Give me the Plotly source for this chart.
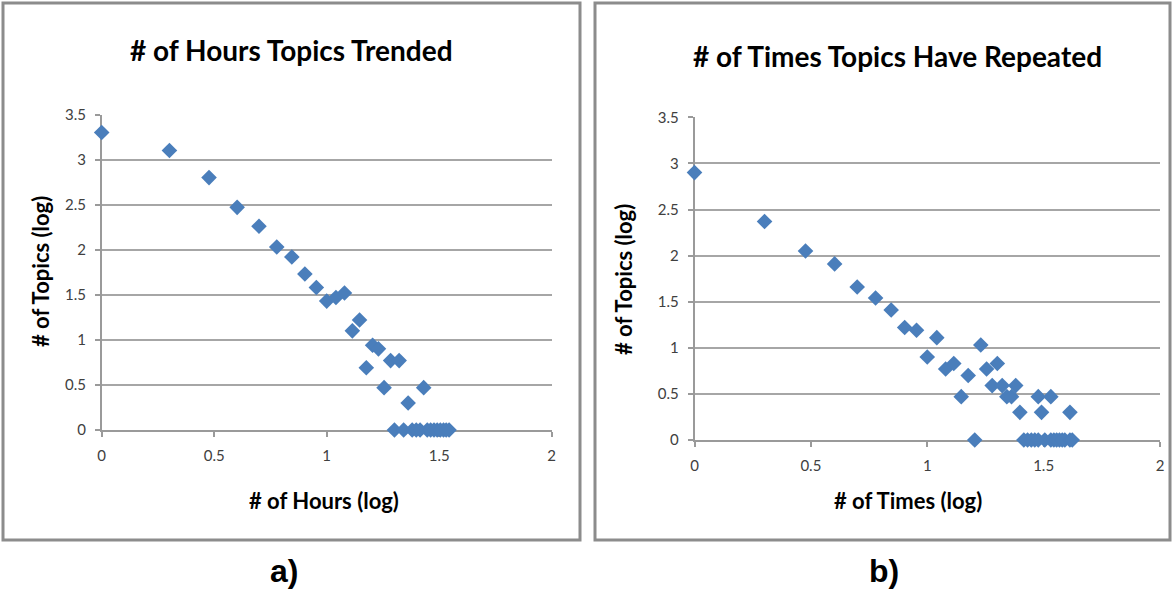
import plotly.graph_objects as go

W, H = 1172, 591

# ---- data (log10 values) ----
hours_x = [0.0, 0.301, 0.477, 0.602, 0.699, 0.778, 0.845, 0.903, 0.954, 1.0,
           1.041, 1.079, 1.114, 1.146, 1.176, 1.204, 1.230, 1.255, 1.284, 1.322,
           1.362, 1.431,
           1.301, 1.342, 1.380, 1.398, 1.415, 1.447, 1.462, 1.477, 1.491, 1.505,
           1.519, 1.531, 1.544]
hours_y = [3.30, 3.10, 2.80, 2.47, 2.26, 2.03, 1.92, 1.73, 1.58, 1.43,
           1.47, 1.52, 1.10, 1.22, 0.69, 0.94, 0.90, 0.47, 0.77, 0.77,
           0.30, 0.47,
           0, 0, 0, 0, 0, 0, 0, 0, 0, 0,
           0, 0, 0]

times_x = [0.0, 0.301, 0.477, 0.602, 0.699, 0.778, 0.845, 0.903, 0.954, 1.0,
           1.041, 1.079, 1.114, 1.146, 1.176, 1.204, 1.230, 1.255, 1.279, 1.301,
           1.322, 1.342, 1.362, 1.380, 1.398, 1.477, 1.491, 1.531, 1.613,
           1.415, 1.431, 1.447, 1.462, 1.477, 1.505, 1.531, 1.544, 1.556, 1.568,
           1.580, 1.591, 1.613, 1.623]
times_y = [2.90, 2.37, 2.05, 1.91, 1.66, 1.54, 1.41, 1.22, 1.19, 0.90,
           1.11, 0.77, 0.83, 0.47, 0.70, 0.0, 1.03, 0.77, 0.59, 0.83,
           0.59, 0.47, 0.47, 0.59, 0.30, 0.47, 0.30, 0.47, 0.30,
           0, 0, 0, 0, 0, 0, 0, 0, 0, 0,
           0, 0, 0, 0]

x_ticks = [0, 0.5, 1, 1.5, 2]
x_tick_labels = ["0", "0.5", "1", "1.5", "2"]
y_ticks = [0, 0.5, 1, 1.5, 2, 2.5, 3, 3.5]
y_tick_labels = ["0", "0.5", "1", "1.5", "2", "2.5", "3", "3.5"]

titles = ["# of Hours Topics Trended", "# of Times Topics Have Repeated"]
x_titles = ["# of Hours (log)", "# of Times (log)"]
y_title = "# of Topics (log)"
panel_labels = ["a)", "b)"]

# ---- layout helpers ----
def fx(px):
    return px / W

def fy(py):
    return 1 - py / H

MARK = "#4A7EBB"
AX = "#9a9a9a"
FONT = "Lato"

fig = go.Figure()
fig.add_trace(go.Scatter(x=hours_x, y=hours_y, mode="markers", xaxis="x", yaxis="y",
                         cliponaxis=False,
                         marker=dict(symbol="diamond", size=12, color=MARK, line=dict(width=0)),
                         showlegend=False))
fig.add_trace(go.Scatter(x=times_x, y=times_y, mode="markers", xaxis="x2", yaxis="y2",
                         cliponaxis=False,
                         marker=dict(symbol="diamond", size=12, color=MARK, line=dict(width=0)),
                         showlegend=False))

def xax(dom, anchor):
    return dict(domain=dom, anchor=anchor, range=[0, 2], tickvals=x_ticks, ticktext=x_tick_labels,
                showgrid=False, zeroline=False, showline=True, linecolor=AX, linewidth=1.5,
                ticks="outside", ticklen=5, tickcolor=AX, tickwidth=1.5,
                tickfont=dict(family=FONT, size=15, color="#404040"), ticklabelstandoff=6,
                fixedrange=True, layer="below traces")

def yax(dom, anchor):
    return dict(domain=dom, anchor=anchor, range=[0, 3.5], tickvals=y_ticks, ticktext=y_tick_labels,
                showgrid=True, gridcolor="#a6a6a6", gridwidth=1.5, zeroline=False,
                showline=True, linecolor=AX, linewidth=1.5,
                ticks="outside", ticklen=5, tickcolor=AX, tickwidth=1.5,
                tickfont=dict(family=FONT, size=15, color="#404040"), ticklabelstandoff=6,
                fixedrange=True, layer="below traces")

fig.update_layout(
    width=W, height=H, margin=dict(l=0, r=0, t=0, b=0, autoexpand=False),
    paper_bgcolor="white", plot_bgcolor="white",
    xaxis=xax([fx(101.7), fx(551.7)], "y"),
    yaxis=yax([fy(430), fy(114.5)], "x"),
    xaxis2=xax([fx(694.5), fx(1160)], "y2"),
    yaxis2=yax([fy(440), fy(117.3)], "x2"),
)

# panel borders
for x0, x1 in [(3, 580), (595, 1170)]:
    fig.add_shape(type="rect", xref="paper", yref="paper",
                  x0=fx(x0), x1=fx(x1), y0=fy(540), y1=fy(3),
                  line=dict(color="#8c8c8c", width=3), fillcolor="rgba(0,0,0,0)", layer="below")

def ann(text, x, y, size, angle=0, family=FONT, color="#000000"):
    fig.add_annotation(text=text, xref="paper", yref="paper", x=fx(x), y=fy(y),
                       xanchor="center", yanchor="middle", showarrow=False, textangle=angle,
                       font=dict(family=family, size=size, color=color))

ann("<b>%s</b>" % titles[0], 291, 50, 28)
ann("<b>%s</b>" % titles[1], 897, 56, 28)
ann("<b>%s</b>" % x_titles[0], 324, 500, 22)
ann("<b>%s</b>" % x_titles[1], 908, 500, 22)
ann("<b>%s</b>" % y_title, 40, 272, 22, angle=-90)
ann("<b>%s</b>" % y_title, 624, 280, 22, angle=-90)
ann("<b>%s</b>" % panel_labels[0], 284, 571, 32, family="Liberation Sans")
ann("<b>%s</b>" % panel_labels[1], 884, 571, 32, family="Liberation Sans")

post = """
document.documentElement.style.margin='0';
document.body.style.margin='0';
document.body.style.overflow='hidden';
var d = document.querySelector('.plotly-graph-div');
d.style.position='fixed'; d.style.left='0px'; d.style.top='0px';
"""

fig.write_html("out.html", config={"displayModeBar": False}, post_script=post)
